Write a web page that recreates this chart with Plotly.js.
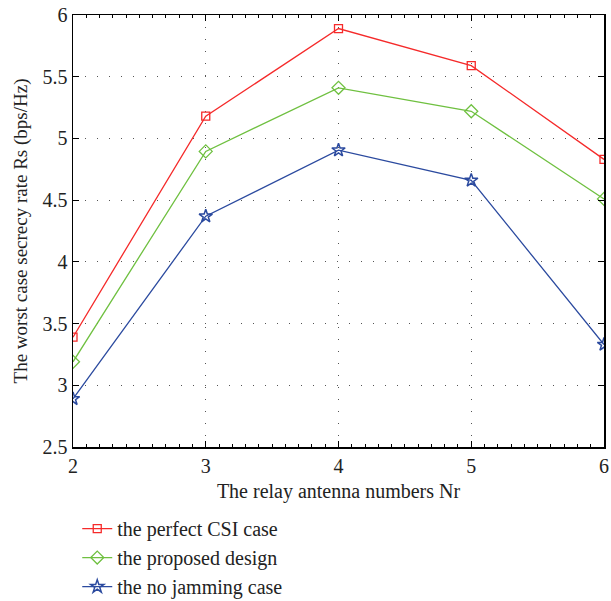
<!DOCTYPE html>
<html>
<head>
<meta charset="utf-8">
<script src="https://cdn.plot.ly/plotly-3.0.1.min.js"></script>
<style>html,body{margin:0;padding:0;background:#fff;}#chart{width:611px;height:601px;}</style>
</head>
<body>
<div id="chart"></div>
<script>
const relayAntennas = [2, 3, 4, 5, 6];
const perfectCSI = [3.39, 5.18, 5.89, 5.59, 4.83];
const proposedDesign = [3.19, 4.895, 5.41, 5.22, 4.51];
const noJamming = [2.89, 4.37, 4.905, 4.66, 3.33];
const seriesNames = ['the perfect CSI case', 'the proposed design', 'the no jamming case'];
const xTicks = [2, 3, 4, 5, 6];
const yTicks = [2.5, 3, 3.5, 4, 4.5, 5, 5.5, 6];

const serif = 'Liberation Serif, Times New Roman, serif';
const traces = [
  {x: relayAntennas, y: perfectCSI, name: seriesNames[0], mode: 'lines+markers',
   line: {color: '#f52a2a', width: 1.3}, marker: {symbol: 'square-open', size: 8, color: '#f52a2a', line: {width: 1.3}}},
  {x: relayAntennas, y: proposedDesign, name: seriesNames[1], mode: 'lines+markers',
   line: {color: '#6fc040', width: 1.3}, marker: {symbol: 'diamond-open', size: 10, color: '#6fc040', line: {width: 1.3}}},
  {x: relayAntennas, y: noJamming, name: seriesNames[2], mode: 'lines+markers',
   line: {color: '#2b4a9f', width: 1.3}, marker: {symbol: 'star-open', size: 10, color: '#2b4a9f', line: {width: 1.5}}}
];

const axisCommon = {
  showline: true, linecolor: '#000', linewidth: 1.5, mirror: 'ticks',
  ticks: 'inside', ticklen: 6, tickcolor: '#000', tickwidth: 1,
  showgrid: true, gridcolor: '#555', gridwidth: 1, griddash: '1px,11px',
  zeroline: false, tickfont: {family: serif, size: 20, color: '#222'}
};

const layout = {
  width: 611, height: 601,
  margin: {l: 73, r: 7, t: 15, b: 154},
  paper_bgcolor: '#fff', plot_bgcolor: '#fff',
  xaxis: Object.assign({}, axisCommon, {
    range: [2, 6], tickvals: xTicks, ticktext: xTicks.map(String),
    minor: {dtick: 0.1, ticks: 'inside', ticklen: 3, tickcolor: '#000', showgrid: false},
    title: {text: 'The relay antenna numbers Nr', font: {family: serif, size: 20, color: '#222'}, standoff: 8}
  }),
  yaxis: Object.assign({}, axisCommon, {
    range: [2.5, 6], tickvals: yTicks, ticktext: yTicks.map(String),
    title: {text: 'The worst case secrecy rate Rs (bps/Hz)', font: {family: serif, size: 19, color: '#222'}, standoff: 10}
  }),
  showlegend: true,
  legend: {x: 0.008, xanchor: 'left', yref: 'container', y: 0.153, yanchor: 'top', bgcolor: 'rgba(0,0,0,0)',
    font: {family: serif, size: 20, color: '#222'}, tracegroupgap: 0}
};

Plotly.newPlot('chart', traces, layout, {displayModeBar: false, staticPlot: true});
</script>
</body>
</html>
